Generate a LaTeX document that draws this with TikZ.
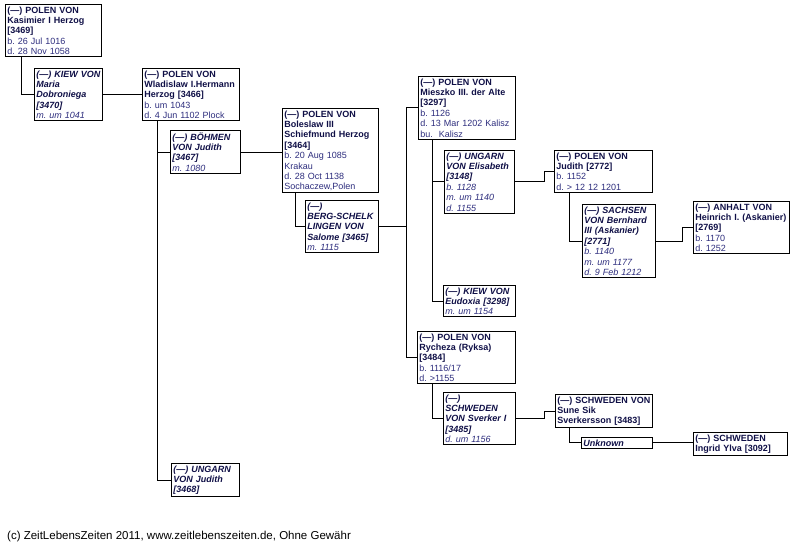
\documentclass[tikz,border=0pt]{standalone}
\usepackage{fontspec}
\setmainfont{Liberation Sans}
\usetikzlibrary{positioning}
\definecolor{namecol}{RGB}{15,15,70}
\definecolor{datecol}{RGB}{45,45,125}
\newcommand{\dt}[1]{{\mdseries\color{datecol}#1}}
\frenchspacing
\hyphenpenalty=10000
\exhyphenpenalty=10000
\tikzset{
  person/.style={draw, line width=1pt, anchor=north west, align=left, inner xsep=1.8pt, inner ysep=2pt,
    text width=#1-3.6pt, text=namecol, font=\fontsize{9}{10.4}\selectfont\bfseries},
  spouse/.style={person=#1, font=\fontsize{9}{10.4}\selectfont\bfseries\itshape},
  link/.style={line width=0.8pt},
}

\begin{document}
\begin{tikzpicture}[x=1pt, y=-1pt]
    \useasboundingbox (0,0) rectangle (799,545);
    \node[person=96] (kasimier) at (5,4) {(---) POLEN VON\\Kasimier I Herzog\\{}[3469]\\\dt{b. 26 Jul 1016}\\\dt{d. 28 Nov 1058}};
    \node[spouse=68] (maria) at (34,68) {\mbox{(---) KIEW VON}\\Maria\\Dobroniega\\{}[3470]\\\dt{m. um 1041}};
    \node[person=97] (wladislaw) at (142,68) {(---) POLEN VON\\\mbox{Wladislaw I.Hermann}\\Herzog [3466]\\\dt{b. um 1043}\\\dt{d. 4 Jun 1102 Plock}};
    \node[spouse=70] (bohmen) at (170,130) {(---) BÖHMEN\\VON Judith\\{}[3467]\\\dt{m. 1080}};
    \node[spouse=68] (ungarn) at (171,463) {(---) UNGARN\\VON Judith\\{}[3468]};
    \node[person=96] (boleslaw) at (282,108) {(---) POLEN VON\\Boleslaw III\\Schiefmund Herzog\\{}[3464]\\\dt{b. 20 Aug 1085}\\\dt{Krakau}\\\dt{d. 28 Oct 1138}\\\dt{Sochaczew,Polen}};
    \node[spouse=73] (salome) at (305,200) {(---)\\BERG-SCHELK\\LINGEN VON\\Salome [3465]\\\dt{m. 1115}};
    \node[person=97] (mieszko) at (418,76) {(---) POLEN VON\\Mieszko III. der Alte\\{}[3297]\\\dt{b. 1126}\\\dt{d. 13 Mar 1202 Kalisz}\\\dt{bu.\ \ Kalisz}};
    \node[spouse=70] (elisabeth) at (444,150) {(---) UNGARN\\\mbox{VON Elisabeth}\\{}[3148]\\\dt{b. 1128}\\\dt{m. um 1140}\\\dt{d. 1155}};
    \node[spouse=72] (eudoxia) at (443,285) {(---) KIEW VON\\Eudoxia [3298]\\\dt{m. um 1154}};
    \node[person=98] (rycheza) at (417,331) {(---) POLEN VON\\Rycheza (Ryksa)\\{}[3484]\\\dt{b. 1116/17}\\\dt{d. >1155}};
    \node[spouse=72] (sverker) at (443,392) {(---)\\SCHWEDEN\\VON Sverker I\\{}[3485]\\\dt{d. um 1156}};
    \node[person=98] (judith) at (554,150) {(---) POLEN VON\\Judith [2772]\\\dt{b. 1152}\\\dt{d. > 12 12 1201}};
    \node[spouse=73] (bernhard) at (582,204) {(---) SACHSEN\\VON Bernhard\\III (Askanier)\\{}[2771]\\\dt{b. 1140}\\\dt{m. um 1177}\\\dt{d. 9 Feb 1212}};
    \node[person=96] (heinrich) at (693,201) {(---) ANHALT VON\\\mbox{Heinrich I. (Askanier)}\\{}[2769]\\\dt{b. 1170}\\\dt{d. 1252}};
    \node[person=97] (sune) at (555,394) {\mbox{(---) SCHWEDEN VON}\\Sune Sik\\Sverkersson [3483]};
    \node[spouse=71] (unknown) at (581,437) {Unknown};
    \node[person=94] (ingrid) at (693,432) {(---) SCHWEDEN\\Ingrid Ylva [3092]};
    \node[anchor=base west, inner sep=0pt, font=\fontsize{11.5}{13}\selectfont] (footer) at (7,539) {(c) ZeitLebensZeiten 2011, www.zeitlebenszeiten.de, Ohne Gewähr};
    \draw[link] ([xshift=16pt]kasimier.south west) |- (maria.west);
    \draw[link] (maria.east) -- (maria.east -| wladislaw.west);
    \draw[link] ([xshift=15pt]wladislaw.south west) |- (bohmen.west);
    \draw[link] ([xshift=15pt]wladislaw.south west) |- (ungarn.west);
    \draw[link] (bohmen.east) -- (bohmen.east -| boleslaw.west);
    \draw[link] ([xshift=13pt]boleslaw.south west) |- (salome.west);
    \draw[link] (salome.east) -- ++(27,0) coordinate (kids);
    \draw[link] (mieszko.west) -| (kids);
    \draw[link] (rycheza.west) -| (kids);
    \draw[link] ([xshift=14pt]mieszko.south west) |- (elisabeth.west);
    \draw[link] ([xshift=14pt]mieszko.south west) |- (eudoxia.west);
    \draw[link] (elisabeth.east) -- ++(29,0) |- (judith.west);
    \draw[link] ([xshift=15pt]judith.south west) |- (bernhard.west);
    \draw[link] (bernhard.east) -- ++(26,0) |- (heinrich.west);
    \draw[link] ([xshift=15pt]rycheza.south west) |- (sverker.west);
    \draw[link] (sverker.east) -- ++(28,0) |- (sune.west);
    \draw[link] ([xshift=14pt]sune.south west) |- (unknown.west);
    \draw[link] (unknown.east) -- (unknown.east -| ingrid.west);
\end{tikzpicture}
\end{document}
